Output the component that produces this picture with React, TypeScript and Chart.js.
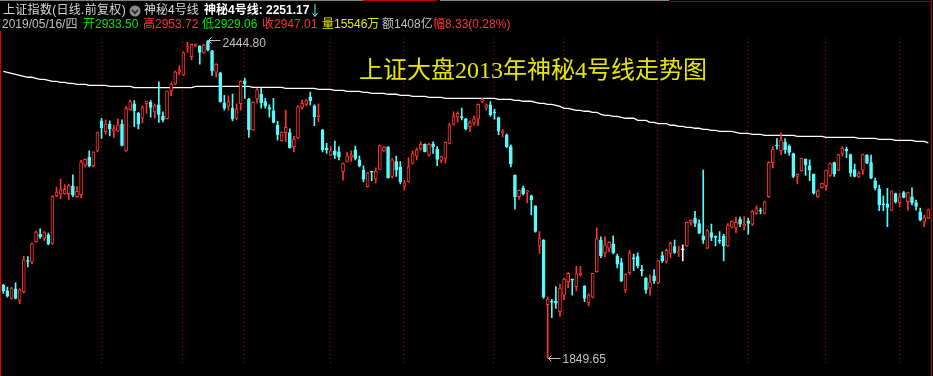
import React, { useEffect, useRef } from "react";
import { Chart, registerables } from "chart.js";

Chart.register(...registerables);

// ---- data (上证指数 daily K-line, late 2012 – Nov 2013) ----
const opens = [
  1987,1976,1962,1980,1958,1974,2032,2030,2068,2082,
  2074,2081,2065,2154,2157,2158,2158,2172,2152,2156,
  2211,2226,2210,2238,2294,2274,2288,2275,2275,2288,
  2238,2315,2326,2308,2299,2326,2329,2311,2324,2303,
  2298,2350,2363,2385,2380,2430,2414,2435,2434,2421,
  2443,2425,2385,2384,2328,2321,2318,2299,2326,2369,
  2335,2277,2335,2344,2330,2319,2313,2286,2257,2272,
  2272,2246,2262,2319,2325,2339,2322,2302,2277,2243,
  2230,2238,2236,2199,2218,2226,2240,2221,2202,2171,
  2199,2185,2203,2238,2245,2190,2218,2208,2172,2180,
  2215,2228,2241,2250,2230,2251,2241,2220,2224,2252,
  2288,2301,2301,2298,2283,2290,2297,2331,2319,2324,
  2311,2300,2271,2268,2246,2192,2152,2169,2161,2154,
  2135,2060,2071,1950,1957,1957,1937,1968,1993,1998,
  1984,2006,1985,1954,1964,2012,2071,2047,2056,2064,
  2041,2029,1978,2010,2037,2040,2015,2000,1981,2004,
  1991,2042,2031,2046,2059,2047,2053,2060,2104,2112,
  2102,2079,2056,2085,2078,2070,2079,2060,2095,2094,
  2110,2097,2107,2101,2121,2126,2121,2152,2216,2248,
  2238,2254,2247,2233,2190,2201,2222,2210,2194,2152,
  2169,2173,2192,2216,2202,2233,2241,2231,2203,2190,
  2202,2230,2216,2182,2167,2138,2139,2127,2158,2141,
  2160,2143,2152,2141,2124,2105,2112,
];
const highs = [
  1988,1983,1983,1991,1980,2041,2040,2066,2088,2092,
  2087,2084,2154,2170,2185,2175,2176,2193,2171,2220,
  2223,2238,2236,2273,2299,2296,2294,2286,2298,2296,
  2321,2333,2332,2310,2322,2331,2332,2326,2367,2311,
  2350,2365,2387,2397,2423,2441,2438,2438,2435,2437,
  2444.8,2426,2401,2385,2342,2341,2344,2326,2369,2374,
  2336,2330,2355,2356,2336,2324,2336,2293,2274,2314,
  2279,2265,2322,2333,2334,2348,2324,2326,2278,2252,
  2246,2256,2246,2215,2235,2238,2247,2228,2210,2198,
  2199,2206,2249,2246,2246,2224,2228,2218,2183,2225,
  2238,2243,2255,2251,2252,2255,2246,2228,2255,2290,
  2311,2311,2318,2299,2294,2303,2326,2336,2326,2330,
  2316,2301,2278,2270,2249,2193,2165,2172,2164,2155,
  2135,2087,2072,1965,1960,1984,1988,2000,2010,1998,
  2022,2022,1986,1971,2009,2094,2077,2077,2068,2079,
  2045,2037,2008,2052,2045,2047,2024,2001,2006,2016,
  2033,2049,2054,2068,2071,2060,2062,2105,2109,2125,
  2109,2202,2091,2101,2079,2087,2082,2102,2107,2114,
  2114,2115,2112,2126,2135,2131,2144,2218,2246,2261,
  2271,2261,2249,2234,2195,2224,2223,2221,2195,2165,
  2177,2202,2215,2217,2232,2246,2245,2232,2213,2199,
  2232,2231,2230,2187,2174,2154,2168,2163,2159,2159,
  2162,2161,2169,2146,2131,2118,2129,
];
const lows = [
  1971,1964,1961,1961,1952,1972,2021,2027,2067,2074,
  2070,2062,2063,2152,2148,2157,2147,2152,2151,2150,
  2208,2208,2208,2236,2261,2269,2266,2263,2274,2247,
  2237,2314,2283,2279,2290,2308,2301,2299,2291,2292,
  2297,2341,2362,2380,2379,2422,2408,2433,2400,2420,
  2425,2379,2376,2329,2314,2314,2294,2296,2314,2336,
  2263,2276,2327,2318,2318,2301,2290,2258,2256,2255,
  2243,2236,2261,2316,2322,2324,2285,2292,2236,2233,
  2229,2224,2221,2183,2217,2218,2221,2208,2180,2170,
  2182,2178,2203,2237,2187,2187,2190,2176,2165,2179,
  2213,2221,2239,2236,2228,2233,2210,2216,2215,2251,
  2286,2292,2296,2277,2274,2286,2285,2328,2314,2303,
  2297,2268,2264,2244,2208,2129,2147,2155,2141,2118,
  2086,2046,1962,1849.65,1926,1943,1928,1959,1982,1968,
  1976,2004,1956,1948,1963,2011,2038,2040,2049,2045,
  2019,1993,1973,2007,2014,2019,2004,1971,1968,1990,
  1989,2029,2028,2038,2046,2040,2032,2059,2099,2096,
  2083,2065,2055,2070,2060,2065,2032,2059,2094,2085,
  2096,2090,2082,2098,2119,2120,2120,2151,2206,2241,
  2231,2233,2230,2188,2176,2200,2192,2182,2157,2151,
  2168,2165,2190,2190,2201,2228,2225,2190,2189,2188,
  2194,2214,2186,2165,2126,2126,2096,2126,2140,2133,
  2150,2127,2137,2127,2107,2096,2111,
];
const closes = [
  1976,1966,1981,1962,1978,2034,2031,2064,2086,2077,
  2086,2064,2153,2161,2165,2166,2173,2155,2162,2217,
  2222,2210,2236,2272,2281,2288,2279,2279,2286,2248,
  2317,2330,2313,2288,2319,2331,2319,2322,2306,2296,
  2350,2363,2386,2389,2422,2433,2437,2437,2422,2436,
  2427,2388,2400,2330,2318,2330,2298,2316,2368,2363,
  2277,2329,2352,2328,2322,2316,2291,2268,2273,2282,
  2244,2260,2321,2327,2332,2332,2302,2305,2240,2240,
  2238,2230,2227,2214,2228,2230,2224,2210,2185,2197,
  2198,2200,2248,2245,2188,2221,2202,2180,2178,2208,
  2233,2240,2250,2236,2250,2246,2222,2227,2254,2286,
  2302,2308,2300,2279,2291,2298,2325,2334,2324,2305,
  2309,2275,2275,2246,2213,2152,2164,2158,2163,2146,
  2087,2074,1965,1961,1955,1953,1981,1998,2009,1996,
  2008,2009,1962,1968,2009,2074,2042,2062,2067,2047,
  2026,1995,2007,2047,2036,2023,2014,1978,1993,1995,
  2032,2032,2052,2065,2048,2049,2053,2104,2108,2102,
  2084,2071,2089,2076,2076,2069,2060,2099,2106,2104,
  2101,2101,2102,2125,2130,2125,2142,2216,2241,2247,
  2258,2240,2235,2190,2194,2224,2212,2202,2159,2163,
  2177,2202,2214,2195,2231,2243,2238,2197,2190,2196,
  2231,2215,2187,2168,2137,2137,2132,2163,2143,2152,
  2151,2160,2141,2134,2109,2113,2128,
];
// 神秘4号线 values
const line4 = [
  2386.8,2384.9,2383.1,2381.2,2379.3,2377.4,2375.6,2375.6,2373.7,2371.8,
  2371.8,2369.9,2368.1,2368.1,2366.2,2366.2,2364.3,2364.3,2362.5,2362.5,
  2362.5,2360.6,2360.6,2360.6,2360.6,2360.6,2358.7,2358.7,2358.7,2358.7,
  2358.7,2358.7,2356.1,2356.1,2356.1,2356.1,2356.1,2356.1,2356.1,2356.1,
  2356.1,2356.1,2356.1,2356.1,2356.1,2356.1,2356.1,2358.7,2358.7,2358.7,
  2358.7,2358.7,2358.7,2358.7,2358.7,2358.7,2358.7,2358.7,2358.7,2358.7,
  2358.7,2356.8,2356.8,2356.8,2356.8,2356.8,2356.8,2356.8,2356.8,2355.0,
  2355.0,2355.0,2355.0,2355.0,2355.0,2355.0,2355.0,2353.1,2353.1,2353.1,
  2353.1,2351.2,2351.2,2351.2,2349.4,2349.4,2349.4,2349.4,2347.5,2347.5,
  2345.6,2345.6,2345.6,2345.6,2343.8,2343.8,2343.8,2341.9,2341.9,2341.9,
  2340.0,2340.0,2340.0,2340.0,2338.1,2338.1,2338.1,2338.1,2336.3,2336.3,
  2336.3,2336.3,2336.3,2336.3,2336.3,2336.3,2336.3,2336.3,2336.3,2336.3,
  2336.3,2334.4,2334.4,2334.4,2334.4,2332.5,2332.5,2330.7,2330.7,2330.7,
  2328.8,2326.9,2326.9,2325.0,2325.0,2323.2,2321.3,2317.6,2317.6,2315.7,
  2313.8,2313.8,2312.0,2312.0,2310.1,2310.1,2306.3,2304.5,2304.5,2302.6,
  2302.6,2300.7,2298.9,2298.9,2298.9,2295.1,2295.1,2295.1,2291.4,2291.4,
  2288.8,2288.8,2288.8,2285.8,2285.8,2283.9,2283.9,2282.0,2282.0,2280.2,
  2280.2,2278.3,2278.3,2276.4,2276.4,2274.5,2274.5,2274.5,2274.5,2272.7,
  2270.8,2270.8,2270.8,2268.9,2268.9,2268.9,2267.0,2267.0,2267.0,2267.0,
  2267.0,2267.0,2267.0,2267.0,2265.2,2265.2,2265.2,2265.2,2265.2,2265.2,
  2265.2,2263.3,2263.3,2263.3,2263.3,2263.3,2263.3,2263.3,2263.3,2261.4,
  2261.4,2261.4,2261.4,2261.4,2259.6,2259.6,2259.6,2259.6,2257.7,2257.7,
  2257.7,2257.7,2257.7,2255.8,2255.8,2255.8,2253.0,
];
// index of the first trading day of each month (dotted separators)
const monthStarts = [24, 44, 59, 80, 98, 120, 137, 160, 182, 201, 219];
const highIndex = 50;
const lowIndex = 133;
const yMin = 1831.7;
const yMax = 2460.3;

const RED = "#ff3232";
const CYAN = "#54fcfc";
const WHITE = "#ffffff";
const GREEN = "#00e600";
const YELLOW = "#e6e600";
const GRAY = "#c0c0c0";
const SEP = "#c80000";

const labels = opens.map((_, i) => String(i));
const candleColors = opens.map((o, i) =>
  closes[i] > o ? RED : closes[i] < o ? CYAN : WHITE
);

const decorPlugin = {
  id: "decor",
  beforeDatasetsDraw(chart: any) {
    const { ctx, chartArea } = chart;
    const x = chart.scales.x;
    ctx.save();
    ctx.strokeStyle = SEP;
    ctx.lineWidth = 1;
    ctx.setLineDash([1, 3]);
    monthStarts.forEach((idx) => {
      const px = Math.round(x.getPixelForValue(idx)) - 0.5;
      ctx.beginPath();
      ctx.moveTo(px, chartArea.top + 6);
      ctx.lineTo(px, chartArea.bottom - 5);
      ctx.stroke();
    });
    ctx.restore();
  },
  afterDatasetsDraw(chart: any) {
    const { ctx } = chart;
    const x = chart.scales.x;
    const y = chart.scales.y;
    ctx.save();
    ctx.strokeStyle = GRAY;
    ctx.fillStyle = GRAY;
    ctx.lineWidth = 1;
    ctx.font = '12px "Liberation Sans", Arial, sans-serif';
    ctx.textBaseline = "middle";
    const mark = (i: number, v: number, dy: number) => {
      const px = Math.round(x.getPixelForValue(i)) + 0.5;
      const py = Math.round(y.getPixelForValue(v)) + 0.5;
      ctx.beginPath();
      ctx.moveTo(px, py);
      ctx.lineTo(px + 12, py);
      ctx.moveTo(px, py);
      ctx.lineTo(px + 3, py - 3);
      ctx.moveTo(px, py);
      ctx.lineTo(px + 3, py + 3);
      ctx.stroke();
      ctx.fillText(v.toFixed(2), px + 14, py + dy);
    };
    mark(highIndex, highs[highIndex], 3);
    mark(lowIndex, lows[lowIndex], 1);
    ctx.restore();
  },
};

const txt = (
  left: number,
  top: number,
  color: string,
  text: string,
  size = 12,
  extra: any = {}
) => (
  <span
    style={{
      position: "absolute",
      left,
      top,
      color,
      fontSize: size,
      lineHeight: `${size}px`,
      whiteSpace: "nowrap",
      fontFamily: '"Liberation Sans", "Noto Sans CJK SC", sans-serif',
      ...extra,
    }}
  >
    {text}
  </span>
);

export default function App() {
  const ref = useRef<HTMLCanvasElement>(null);

  useEffect(() => {
    const canvas = ref.current;
    if (!canvas) return;
    const chart = new Chart(canvas, {
      type: "bar",
      data: {
        labels,
        datasets: [
          {
            type: "line",
            label: "神秘4号线",
            data: line4,
            borderColor: WHITE,
            borderWidth: 1.3,
            pointRadius: 0,
            tension: 0,
            order: 3,
          } as any,
          {
            type: "bar",
            label: "wick",
            data: lows.map((l, i) => [l, highs[i]]),
            backgroundColor: candleColors,
            borderWidth: 0,
            barThickness: 1,
            grouped: false,
            order: 2,
          } as any,
          {
            type: "bar",
            label: "body",
            data: opens.map((o, i) => [
              Math.min(o, closes[i]),
              Math.max(o, closes[i]),
            ]),
            backgroundColor: candleColors.map((c) => (c === RED ? "#000000" : c)),
            borderColor: candleColors,
            borderWidth: 1,
            borderSkipped: false,
            barThickness: 3,
            minBarLength: 1,
            grouped: false,
            order: 1,
          } as any,
        ],
      },
      options: {
        animation: false,
        responsive: false,
        devicePixelRatio: 1,
        events: [],
        layout: { padding: { left: 1.25, right: 2.6, top: 32, bottom: 8 } },
        plugins: { legend: { display: false }, tooltip: { enabled: false } },
        scales: {
          x: { type: "category", display: false, offset: true, grid: { display: false } },
          y: { display: false, min: yMin, max: yMax },
        },
      },
      plugins: [decorPlugin],
    });
    return () => chart.destroy();
  }, []);

  return (
    <div
      style={{
        position: "absolute",
        left: 0,
        top: 0,
        width: 933,
        height: 376,
        background: "#000",
        overflow: "hidden",
      }}
    >
      <canvas
        ref={ref}
        width={933}
        height={376}
        style={{ position: "absolute", left: 0, top: 0, width: 933, height: 376 }}
      />
      {/* frame lines */}
      <div style={{ position: "absolute", left: 0, top: 0, width: 363, height: 1, background: "#808080" }} />
      <div style={{ position: "absolute", left: 363, top: 0, width: 74, height: 1, background: "#c00000" }} />
      <div style={{ position: "absolute", left: 440, top: 0, width: 229, height: 1, background: "#808080" }} />
      <div style={{ position: "absolute", left: 669, top: 1, width: 263, height: 1, background: "#900000" }} />
      <div style={{ position: "absolute", left: 931, top: 1, width: 1, height: 375, background: "#c00000" }} />
      <div style={{ position: "absolute", left: 0, top: 31, width: 1, height: 345, background: "#e00000" }} />

      {/* header row 1 */}
      {txt(3, 4, "#d8d8d8", "上证指数(日线.前复权)", 12, { letterSpacing: 0.3 })}
      <svg style={{ position: "absolute", left: 129, top: 5 }} width={12} height={12}>
        <circle cx={6} cy={6} r={5.5} fill="#8a8a8a" />
        <polyline points="3,5 6,8 9,5" fill="none" stroke="#202020" strokeWidth={1.6} />
      </svg>
      {txt(144, 4, "#d8d8d8", "神秘4号线", 12)}
      {txt(204, 4, "#ffffff", "神秘4号线: 2251.17", 12, { fontWeight: "bold" })}
      <svg style={{ position: "absolute", left: 311, top: 3 }} width={8} height={15}>
        <line x1={4} y1={1} x2={4} y2={13} stroke={CYAN} strokeWidth={1} />
        <polyline points="1.5,10 4,13.5 6.5,10" fill="none" stroke={CYAN} strokeWidth={1} />
      </svg>

      {/* header row 2 */}
      {txt(2, 18.2, GRAY, "2019/05/16/四")}
      {txt(83, 18.2, GREEN, "开")}
      {txt(95, 18.2, GREEN, "2933.50")}
      {txt(143, 18.2, RED, "高")}
      {txt(155, 18.2, RED, "2953.72")}
      {txt(202, 18.2, GREEN, "低")}
      {txt(214, 18.2, GREEN, "2929.06")}
      {txt(262, 18.2, RED, "收")}
      {txt(274, 18.2, RED, "2947.01")}
      {txt(322, 18.2, YELLOW, "量15546万")}
      {txt(382, 18.2, GRAY, "额1408亿")}
      {txt(433, 18.2, RED, "幅8.33(0.28%)")}

      {/* chart title */}
      <span
        style={{
          position: "absolute",
          left: 359,
          top: 57.7,
          color: "#e6e600",
          fontSize: 24,
          lineHeight: "24px",
          whiteSpace: "nowrap",
          fontFamily: '"Liberation Serif", "Noto Sans CJK SC", serif',
        }}
      >
        上证大盘2013年神秘4号线走势图
      </span>
    </div>
  );
}
